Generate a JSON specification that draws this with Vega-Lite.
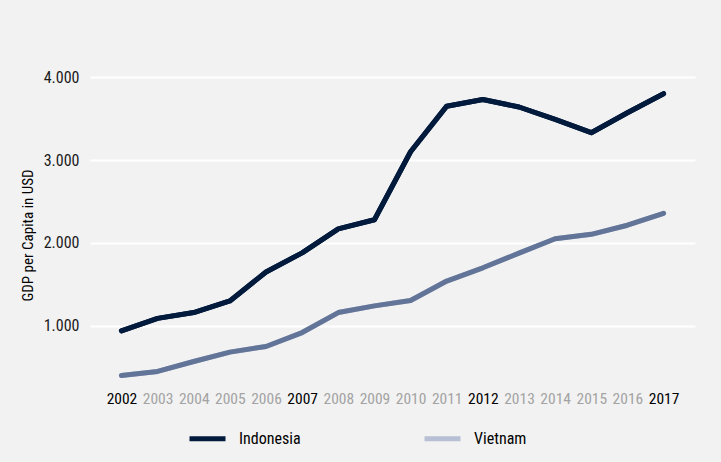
{
  "$schema": "https://vega.github.io/schema/vega-lite/v6.json",
  "width": 605,
  "height": 344,
  "autosize": "none",
  "padding": {"left": 90, "top": 44, "right": 26, "bottom": 74},
  "background": "#f2f2f2",
  "config": {
    "view": {"stroke": null},
    "font": "Roboto Condensed",
    "locale": {"number": {"decimal": ",", "thousands": ".", "grouping": [3], "currency": ["", " €"]}}
  },
  "data": {
    "values": [
      {"year": "2002", "country": "Indonesia", "gdp": 940},
      {"year": "2003", "country": "Indonesia", "gdp": 1090},
      {"year": "2004", "country": "Indonesia", "gdp": 1160},
      {"year": "2005", "country": "Indonesia", "gdp": 1300},
      {"year": "2006", "country": "Indonesia", "gdp": 1650},
      {"year": "2007", "country": "Indonesia", "gdp": 1880},
      {"year": "2008", "country": "Indonesia", "gdp": 2170},
      {"year": "2009", "country": "Indonesia", "gdp": 2280},
      {"year": "2010", "country": "Indonesia", "gdp": 3100},
      {"year": "2011", "country": "Indonesia", "gdp": 3650},
      {"year": "2012", "country": "Indonesia", "gdp": 3730},
      {"year": "2013", "country": "Indonesia", "gdp": 3640},
      {"year": "2014", "country": "Indonesia", "gdp": 3490},
      {"year": "2015", "country": "Indonesia", "gdp": 3330},
      {"year": "2016", "country": "Indonesia", "gdp": 3570},
      {"year": "2017", "country": "Indonesia", "gdp": 3800},
      {"year": "2002", "country": "Vietnam", "gdp": 401},
      {"year": "2003", "country": "Vietnam", "gdp": 450},
      {"year": "2004", "country": "Vietnam", "gdp": 570},
      {"year": "2005", "country": "Vietnam", "gdp": 683},
      {"year": "2006", "country": "Vietnam", "gdp": 751},
      {"year": "2007", "country": "Vietnam", "gdp": 919},
      {"year": "2008", "country": "Vietnam", "gdp": 1160},
      {"year": "2009", "country": "Vietnam", "gdp": 1241},
      {"year": "2010", "country": "Vietnam", "gdp": 1305},
      {"year": "2011", "country": "Vietnam", "gdp": 1540},
      {"year": "2012", "country": "Vietnam", "gdp": 1700},
      {"year": "2013", "country": "Vietnam", "gdp": 1877},
      {"year": "2014", "country": "Vietnam", "gdp": 2050},
      {"year": "2015", "country": "Vietnam", "gdp": 2104},
      {"year": "2016", "country": "Vietnam", "gdp": 2214},
      {"year": "2017", "country": "Vietnam", "gdp": 2358}
    ]
  },
  "encoding": {
    "x": {
      "field": "year", "type": "ordinal",
      "scale": {"type": "point", "padding": 0.87},
      "axis": {
        "title": null, "domain": false, "ticks": false, "labelAngle": 0,
        "labelPadding": 3, "labelFontSize": 15.5,
        "labelColor": {"condition": {"test": "indexof(['2002','2007','2012','2017'], datum.value) >= 0", "value": "#000000"}, "value": "#a3a3a3"}
      }
    },
    "y": {
      "field": "gdp", "type": "quantitative",
      "scale": {"domain": [250, 4400], "nice": false, "zero": false},
      "axis": {
        "title": "GDP per Capita in USD", "values": [1000, 2000, 3000, 4000],
        "format": ",d", "domain": false, "ticks": false,
        "labelPadding": 11, "labelFontSize": 16, "labelColor": "#1a1a1a",
        "gridColor": "#ffffff", "gridWidth": 2,
        "titleFontSize": 15, "titleFontWeight": "normal", "titleColor": "#000000",
        "titlePadding": 8, "titleY": 191
      }
    }
  },
  "layer": [
    {
      "mark": {"type": "line", "strokeWidth": 5, "strokeCap": "round", "strokeJoin": "round"},
      "encoding": {
        "color": {
          "field": "country", "type": "nominal",
          "scale": {"domain": ["Indonesia", "Vietnam"], "range": ["#021a3c", "#b6bfd3"]},
          "legend": {
            "title": null, "orient": "none", "direction": "horizontal",
            "legendX": 97, "legendY": 374,
            "symbolType": "stroke", "symbolSize": 1296, "symbolStrokeWidth": 5,
            "labelFontSize": 16, "labelColor": "#000000", "labelOffset": 11,
            "gridAlign": "all", "columnPadding": 113, "labelLimit": 200
          }
        }
      }
    },
    {
      "mark": {"type": "line", "strokeWidth": 5, "strokeCap": "round", "strokeJoin": "round"},
      "encoding": {
        "detail": {"field": "country", "type": "nominal"},
        "stroke": {"condition": {"test": "datum.country == 'Vietnam'", "value": "#627497"}, "value": "#021a3c"}
      }
    }
  ]
}
